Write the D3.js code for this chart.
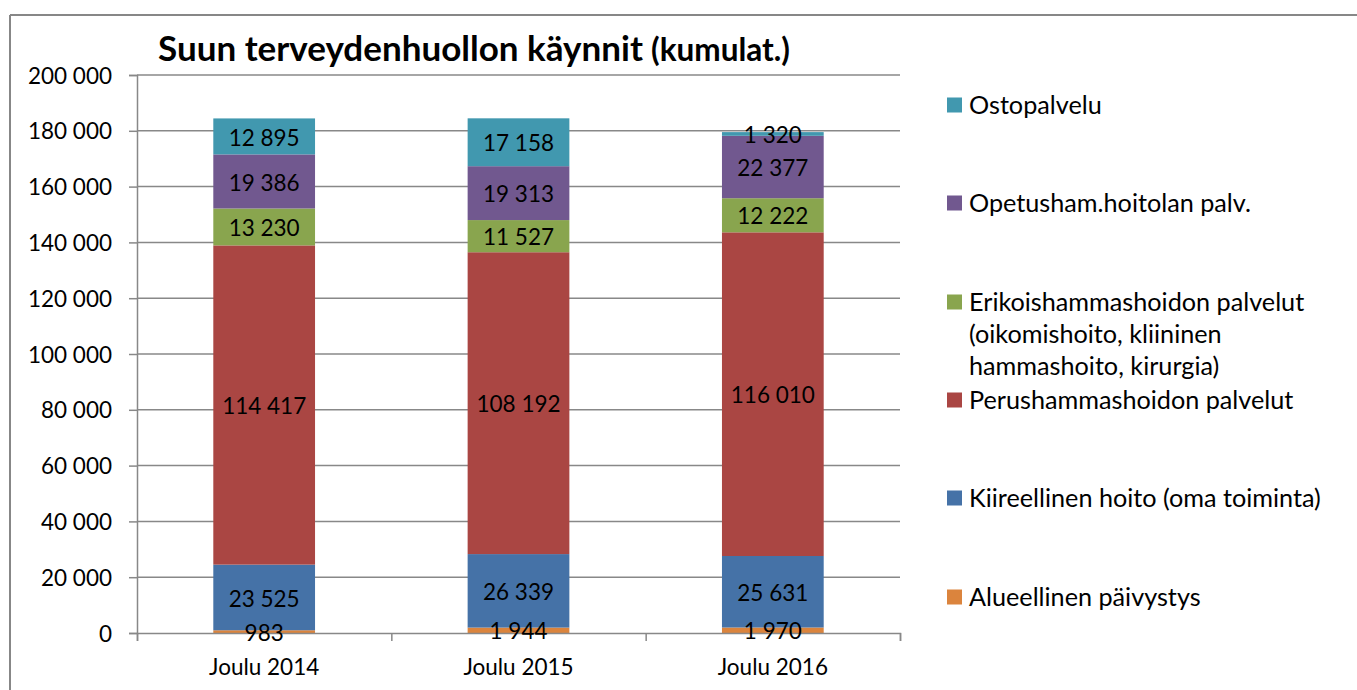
<!DOCTYPE html>
<html><head><meta charset="utf-8">
<script src="https://cdn.jsdelivr.net/npm/d3@7"></script>
<style>
html,body{margin:0;padding:0;background:#fff;}
text{font-family:Lato, "Open Sans", sans-serif;fill:#000;}
</style></head>
<body>
<svg id="chart" width="1357" height="690"></svg>
<script>
const categories = ["Joulu 2014", "Joulu 2015", "Joulu 2016"];
const seriesNames = [
  "Alueellinen päivystys",
  "Kiireellinen hoito (oma toiminta)",
  "Perushammashoidon palvelut",
  "Erikoishammashoidon palvelut (oikomishoito, kliininen hammashoito, kirurgia)",
  "Opetusham.hoitolan palv.",
  "Ostopalvelu"
];
const alueellinen = [983, 1944, 1970];
const kiireellinen = [23525, 26339, 25631];
const perus = [114417, 108192, 116010];
const erikois = [13230, 11527, 12222];
const opetus = [19386, 19313, 22377];
const osto = [12895, 17158, 1320];
const seriesValues = [alueellinen, kiireellinen, perus, erikois, opetus, osto];
const colors = ["#DB843D", "#4572A7", "#AA4643", "#89A54E", "#71588F", "#4198AF"];
const yTicks = [0, 20000, 40000, 60000, 80000, 100000, 120000, 140000, 160000, 180000, 200000];
const legendLines = [
  ["Ostopalvelu"],
  ["Opetusham.hoitolan palv."],
  ["Erikoishammashoidon palvelut", "(oikomishoito, kliininen", "hammashoito, kirurgia)"],
  ["Perushammashoidon palvelut"],
  ["Kiireellinen hoito (oma toiminta)"],
  ["Alueellinen päivystys"]
];

const svg = d3.select("#chart");
const L = 137, R = 900, T = 75, B = 633;
const fmt = d3.formatLocale({decimal: ",", thousands: " ", grouping: [3], currency: ["", ""]}).format(",d");

// frame
svg.append("line").attr("x1", 10).attr("x2", 1357).attr("y1", 15).attr("y2", 15).attr("stroke", "#878787").attr("stroke-width", 2);
svg.append("line").attr("x1", 10).attr("x2", 10).attr("y1", 15).attr("y2", 690).attr("stroke", "#878787").attr("stroke-width", 2);

const x = d3.scaleBand().domain(categories).range([L, R]).paddingInner(0.6).paddingOuter(0.3);
const y = d3.scaleLinear().domain([0, 200000]).range([B, T]);

// gridlines
svg.append("g").selectAll("line").data(yTicks.filter(d => d > 0)).join("line")
  .attr("x1", L).attr("x2", R).attr("y1", d => y(d)).attr("y2", d => y(d))
  .attr("stroke", "#888").attr("stroke-width", 1.5);

// y axis
const yAxis = svg.append("g").attr("transform", `translate(${L},0)`)
  .call(d3.axisLeft(y).tickValues(yTicks).tickSize(8).tickPadding(17).tickFormat(d => fmt(d)));
yAxis.select(".domain").attr("stroke", "#888").attr("stroke-width", 1.5);
yAxis.selectAll(".tick line").attr("stroke", "#888").attr("stroke-width", 1.5);
yAxis.selectAll("text").attr("font-size", 22.5).attr("font-family", "Lato").attr("fill", "#000").attr("dy", "0.36em");

// stacked bars
const rows = categories.map((c, i) => {
  const o = {cat: c};
  seriesNames.forEach((s, j) => o[s] = seriesValues[j][i]);
  return o;
});
const stack = d3.stack().keys(seriesNames)(rows);

const bars = svg.append("g");
stack.forEach((layer, j) => {
  bars.append("g").attr("fill", colors[j]).selectAll("rect").data(layer).join("rect")
    .attr("x", d => x(d.data.cat)).attr("width", x.bandwidth())
    .attr("y", d => y(d[1])).attr("height", d => y(d[0]) - y(d[1]));
});

// x axis
const xb = d3.scaleLinear().domain([0, 3]).range([L, R]);
const xAxis = svg.append("g").attr("transform", `translate(0,${B})`)
  .call(d3.axisBottom(xb).tickValues([0, 1, 2, 3]).tickSize(8).tickFormat(""));
xAxis.select(".domain").attr("stroke", "#888").attr("stroke-width", 1.5);
xAxis.selectAll(".tick line").attr("stroke", "#888").attr("stroke-width", 1.5);
const xAxis2 = svg.append("g").attr("transform", `translate(0,${B})`)
  .call(d3.axisBottom(x).tickSize(0).tickPadding(26));
xAxis2.select(".domain").remove();
xAxis2.selectAll("text").attr("font-size", 22.5).attr("font-family", "Lato").attr("fill", "#000");

// data labels
stack.forEach((layer, j) => {
  svg.append("g").selectAll("text").data(layer).join("text")
    .attr("x", d => x(d.data.cat) + x.bandwidth() / 2)
    .attr("y", d => (y(d[0]) + y(d[1])) / 2 + 1)
    .attr("text-anchor", "middle").attr("dy", "0.36em")
    .attr("font-size", 22.5)
    .text(d => fmt(d[1] - d[0]));
});

// helper: fit font size to a target width
function fitSize(sel, base, target) {
  sel.attr("font-size", base);
  const w = sel.node().getComputedTextLength();
  return base * target / w;
}

// title
const t1 = svg.append("text").attr("x", 158).attr("y", 61).attr("font-weight", "bold")
  .attr("font-family", "Open Sans").text("Suun terveydenhuollon käynnit");
t1.attr("font-size", fitSize(t1, 30, 485));
const t2 = svg.append("text").attr("x", 651).attr("y", 61).attr("font-weight", "bold")
  .attr("font-family", "Open Sans").text("(kumulat.)");
t2.attr("font-size", fitSize(t2, 20, 139));

// legend
const legendY = [105, 203, 302, 400, 498, 597];
const lg = svg.append("g");
const probe = lg.append("text").attr("font-family", "Open Sans").text(legendLines[4][0]);
const lfs = fitSize(probe, 22, 352);
probe.remove();
legendLines.forEach((lines, i) => {
  const cy = legendY[i];
  lg.append("rect").attr("x", 947).attr("y", cy - 7.5).attr("width", 15).attr("height", 15).attr("fill", colors[5 - i]);
  lines.forEach((t, k) => {
    lg.append("text").attr("x", 969).attr("y", cy + k * 32).attr("dy", "0.36em")
      .attr("font-family", "Open Sans").attr("font-size", lfs).text(t);
  });
});
</script>
</body></html>
